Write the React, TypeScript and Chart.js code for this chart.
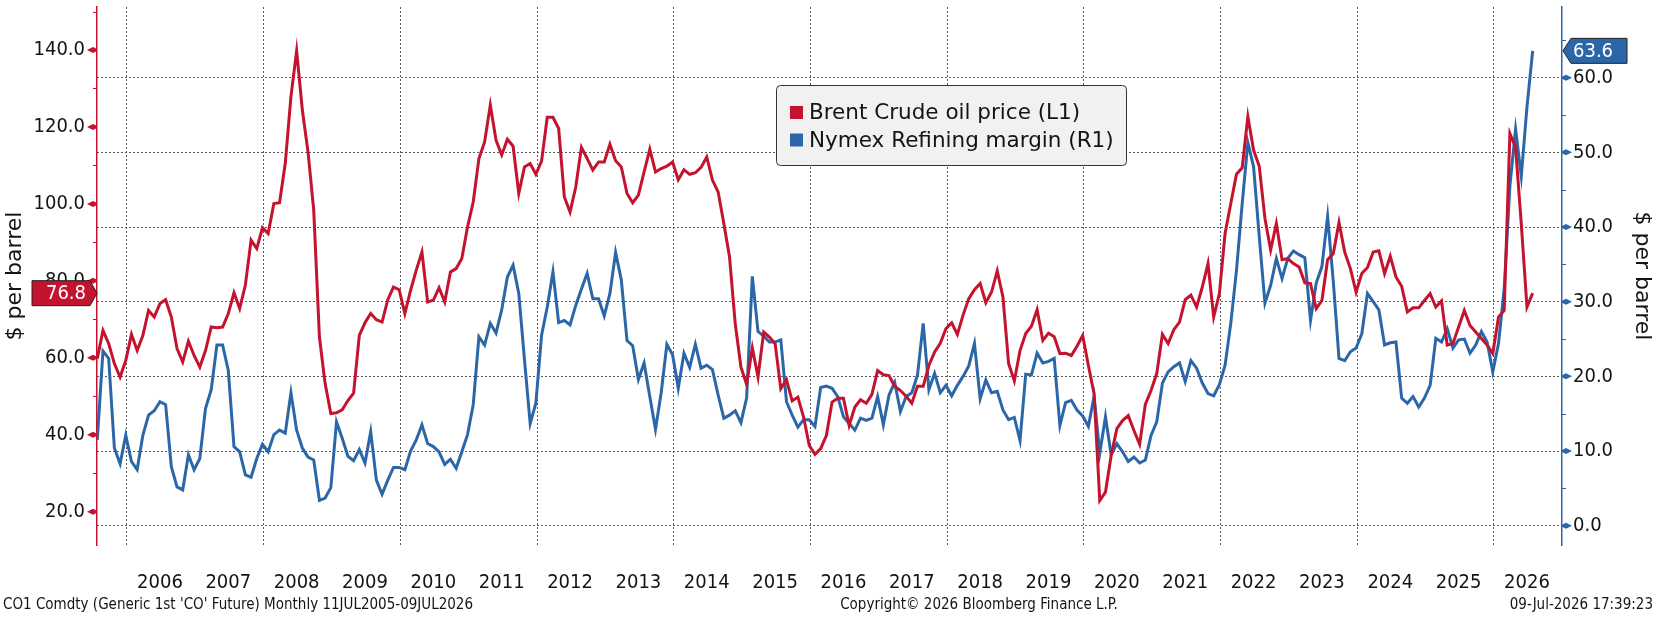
import { useEffect, useRef } from "react";
import { Chart, registerables } from "chart.js";

Chart.register(...registerables);

// Monthly observations, July 2005 .. July 2026 (index 0 = Jul 2005)
const brentPrice = [
  59.8, 67.1, 63.7, 58.5, 55.0, 59.3, 66.1, 61.9, 65.8, 72.3, 70.6, 74.1,
  75.1, 70.6, 62.4, 58.9, 64.3, 60.6, 57.6, 61.9, 68.0, 67.8, 68.0, 71.5,
  76.9, 72.8, 78.9, 90.6, 88.4, 93.8, 92.3, 100.1, 100.3, 110.5, 127.9, 139.8,
  124.4, 113.5, 98.4, 65.4, 53.3, 45.5, 45.7, 46.5, 48.9, 50.8, 65.8, 69.1,
  71.5, 69.9, 69.3, 75.1, 78.4, 77.7, 71.5, 77.5, 82.8, 87.5, 74.5, 75.0,
  78.2, 74.5, 82.3, 83.2, 85.8, 94.0, 100.5, 111.8, 116.1, 125.7, 116.6, 112.7,
  116.8, 115.0, 102.7, 109.6, 110.5, 107.7, 111.1, 122.5, 122.5, 119.6, 101.8, 97.9,
  104.4, 114.7, 111.8, 108.8, 110.9, 110.9, 115.5, 111.2, 109.6, 102.7, 100.3, 102.3,
  108.3, 114.2, 108.3, 109.2, 109.8, 110.9, 106.3, 108.9, 107.7, 108.1, 109.5, 112.2,
  106.2, 103.1, 94.9, 86.2, 68.9, 57.6, 53.1, 62.6, 55.0, 66.7, 65.4, 63.7,
  52.0, 54.3, 48.8, 49.8, 44.6, 37.2, 34.9, 36.4, 39.8, 48.5, 49.5, 49.5,
  42.4, 47.2, 49.1, 48.2, 50.5, 56.7, 55.6, 55.4, 52.6, 51.5, 50.0, 48.2,
  52.6, 52.6, 58.0, 61.5, 63.8, 67.6, 69.1, 66.1, 71.1, 75.4, 77.7, 79.3,
  74.3, 77.1, 82.6, 75.8, 58.5, 54.0, 61.9, 66.3, 68.2, 72.5, 64.5, 66.4,
  65.5, 61.1, 61.2, 60.6, 63.0, 65.8, 58.0, 50.7, 22.9, 25.1, 34.6, 41.6,
  43.7, 45.0, 41.1, 37.5, 47.9, 51.5, 55.9, 66.1, 63.7, 67.3, 69.3, 75.1,
  76.3, 73.2, 78.4, 84.5, 70.6, 76.7, 92.3, 100.1, 107.7, 109.4, 122.7, 114.0,
  109.8, 96.2, 88.0, 94.9, 85.5, 85.8, 84.5, 83.6, 79.5, 79.3, 72.8, 74.9,
  85.5, 87.1, 95.2, 87.5, 83.2, 77.1, 81.9, 83.5, 87.5, 87.8, 81.9, 86.4,
  81.0, 78.6, 71.9, 73.0, 73.0, 74.9, 76.7, 73.2, 74.8, 63.3, 63.7, 68.0,
  72.3, 68.4, 66.7, 65.0, 63.3, 61.1, 70.6, 72.3, 118.3, 114.7, 94.9, 73.2,
  76.8,
];

const refiningMargin = [
  11.5, 23.4, 22.4, 10.4, 8.3, 12.1, 8.6, 7.5, 12.1, 14.8, 15.4, 16.6,
  16.2, 7.9, 5.2, 4.8, 9.5, 7.5, 9.0, 15.7, 18.2, 24.2, 24.2, 20.8,
  10.6, 9.9, 6.8, 6.5, 9.0, 10.9, 9.9, 12.2, 12.8, 12.4, 17.8, 12.8,
  10.4, 9.2, 8.8, 3.4, 3.7, 5.1, 13.9, 11.7, 9.3, 8.7, 10.2, 8.4,
  12.6, 6.1, 4.2, 6.1, 7.8, 7.8, 7.5, 10.0, 11.5, 13.5, 11.0, 10.6,
  9.9, 8.2, 8.9, 7.7, 9.9, 12.2, 16.2, 25.3, 24.2, 27.1, 25.8, 28.9,
  33.3, 34.9, 31.1, 22.2, 13.7, 16.4, 25.5, 29.3, 34.0, 27.2, 27.5, 26.9,
  29.5, 31.7, 33.8, 30.4, 30.4, 28.1, 31.1, 36.6, 32.9, 24.8, 24.1, 19.6,
  21.8, 17.3, 12.9, 17.8, 24.3, 22.9, 18.4, 23.1, 21.2, 24.3, 21.1, 21.5,
  20.9, 17.5, 14.4, 14.8, 15.4, 13.8, 17.1, 33.4, 26.0, 25.4, 24.6, 24.6,
  24.9, 16.6, 14.8, 13.2, 14.2, 14.2, 13.3, 18.5, 18.7, 18.4, 17.3, 14.6,
  13.7, 12.8, 14.4, 14.1, 14.4, 17.3, 13.5, 17.5, 19.2, 15.3, 17.3, 17.8,
  20.2, 27.1, 18.2, 20.4, 17.8, 18.8, 17.4, 18.8, 20.0, 21.4, 24.4, 17.0,
  19.5, 17.8, 18.0, 15.5, 14.2, 14.5, 11.4, 20.3, 20.2, 23.1, 21.8, 22.0,
  22.4, 13.4, 16.5, 16.8, 15.5, 14.7, 13.3, 17.3, 9.7, 14.6, 9.5, 11.0,
  9.9, 8.6, 9.2, 8.4, 8.8, 12.1, 13.9, 19.1, 20.6, 21.3, 21.8, 19.3,
  22.1, 21.1, 19.1, 17.7, 17.4, 18.9, 21.5, 27.1, 34.2, 43.1, 51.3, 48.1,
  38.7, 29.8, 32.2, 35.8, 33.1, 35.8, 36.8, 36.3, 35.9, 27.5, 32.5, 34.7,
  41.4, 32.7, 22.4, 22.1, 23.3, 23.8, 25.7, 31.1, 30.0, 28.9, 24.2, 24.5,
  24.6, 17.1, 16.4, 17.3, 15.9, 17.1, 18.8, 25.1, 24.6, 26.4, 23.8, 24.9,
  25.0, 23.1, 24.2, 26.0, 24.6, 20.6, 24.4, 31.7, 45.5, 53.1, 46.8, 56.1,
  63.6,
];

const yearLabels = [
  "2006", "2007", "2008", "2009", "2010", "2011", "2012", "2013", "2014", "2015", "2016",
  "2017", "2018", "2019", "2020", "2021", "2022", "2023", "2024", "2025", "2026",
];
const gridYears = ["2006", "2008", "2010", "2012", "2014", "2016", "2018", "2020", "2022", "2024", "2026"];
const leftTicks = [20, 40, 60, 80, 100, 120, 140];
const leftMinorTicks = [30, 50, 70, 90, 110, 130, 150];
const rightTicks = [0, 10, 20, 30, 40, 50, 60];
const rightMinorTicks = [5, 15, 25, 35, 45, 55, 65];

const seriesNames = ["Brent Crude oil price (L1)", "Nymex Refining margin (R1)"];
const footerLeft = "CO1 Comdty (Generic 1st 'CO' Future) Monthly 11JUL2005-09JUL2026";
const footerCenter = "Copyright\u00A9 2026 Bloomberg Finance L.P.";
const footerRight = "09-Jul-2026 17:39:23";

const RED = "#c3132f";
const BLUE = "#2b67a8";
const TEXT = "#141414";
const GRID = "#5a5a5a";
const COND = "'DejaVu Sans Condensed', 'DejaVu Sans', sans-serif";
const SANS = "'DejaVu Sans', 'Noto Sans', sans-serif";

// month index helpers (index 0 = end of July 2005)
const yearStartIndex = (y: string) => (Number(y) - 2006) * 12 + 5.2;
const yearMidIndex = (y: string) => (Number(y) - 2006) * 12 + 11;

const gridValues = gridYears.map(yearStartIndex);
const labelValues = yearLabels.map(yearMidIndex);
const xTickValues = [...gridValues, ...labelValues].sort((a, b) => a - b);

const near = (a: number, b: number) => Math.abs(a - b) < 0.01;

const noPad = (s: any) => {
  s.paddingTop = 0;
  s.paddingBottom = 0;
  s.paddingLeft = 0;
  s.paddingRight = 0;
};

const decorations = {
  id: "decorations",
  afterDraw(chart: any) {
    const { ctx, scales } = chart;
    const yL = scales.yL;
    const yR = scales.yR;
    const axL = yL.right;
    const axR = yR.left;
    ctx.save();

    // left axis: minor ticks and major markers
    ctx.strokeStyle = RED;
    ctx.fillStyle = RED;
    ctx.lineWidth = 1;
    for (const v of leftMinorTicks) {
      const y = Math.round(yL.getPixelForValue(v)) + 0.5;
      if (y < yL.top || y > yL.bottom) continue;
      ctx.beginPath();
      ctx.moveTo(axL - 4, y);
      ctx.lineTo(axL, y);
      ctx.stroke();
    }
    for (const v of leftTicks) {
      const y = yL.getPixelForValue(v);
      ctx.beginPath();
      ctx.moveTo(axL - 10, y);
      ctx.lineTo(axL - 4, y - 3);
      ctx.lineTo(axL, y - 1);
      ctx.lineTo(axL, y + 1);
      ctx.lineTo(axL - 4, y + 3);
      ctx.closePath();
      ctx.fill();
    }

    // right axis
    ctx.strokeStyle = BLUE;
    ctx.fillStyle = BLUE;
    for (const v of rightMinorTicks) {
      const y = Math.round(yR.getPixelForValue(v)) + 0.5;
      if (y < yR.top || y > yR.bottom) continue;
      ctx.beginPath();
      ctx.moveTo(axR, y);
      ctx.lineTo(axR + 4, y);
      ctx.stroke();
    }
    for (const v of rightTicks) {
      const y = yR.getPixelForValue(v);
      ctx.beginPath();
      ctx.moveTo(axR + 10, y);
      ctx.lineTo(axR + 4, y - 3);
      ctx.lineTo(axR, y - 1);
      ctx.lineTo(axR, y + 1);
      ctx.lineTo(axR + 4, y + 3);
      ctx.closePath();
      ctx.fill();
    }

    // last-value boxes
    const ds = chart.data.datasets;
    const lastL = ds[0].data[ds[0].data.length - 1].y;
    const lastR = ds[1].data[ds[1].data.length - 1].y;
    const h = 25;
    ctx.font = `20px ${COND}`;
    ctx.textBaseline = "middle";
    {
      const y = yL.getPixelForValue(lastL);
      const x0 = 32;
      const x1 = axL - 7;
      ctx.beginPath();
      ctx.moveTo(x0, y - h / 2);
      ctx.lineTo(x1, y - h / 2);
      ctx.lineTo(axL, y);
      ctx.lineTo(x1, y + h / 2);
      ctx.lineTo(x0, y + h / 2);
      ctx.closePath();
      ctx.fillStyle = RED;
      ctx.fill();
      ctx.strokeStyle = "#222";
      ctx.lineWidth = 1;
      ctx.stroke();
      ctx.fillStyle = "#ffffff";
      ctx.textAlign = "right";
      ctx.fillText(lastL.toFixed(1), axL - 11, y + 1);
    }
    {
      const y = yR.getPixelForValue(lastR);
      const x0 = axR + 9;
      const x1 = 1627;
      ctx.beginPath();
      ctx.moveTo(axR + 1, y);
      ctx.lineTo(x0, y - h / 2);
      ctx.lineTo(x1, y - h / 2);
      ctx.lineTo(x1, y + h / 2);
      ctx.lineTo(x0, y + h / 2);
      ctx.closePath();
      ctx.fillStyle = BLUE;
      ctx.fill();
      ctx.strokeStyle = "#222";
      ctx.lineWidth = 1;
      ctx.stroke();
      ctx.fillStyle = "#ffffff";
      ctx.textAlign = "left";
      ctx.fillText(lastR.toFixed(1), x0 + 2, y + 1);
    }

    // legend box
    {
      const bx = 776.5, by = 85.5, bw = 350, bh = 80, r = 4;
      ctx.beginPath();
      ctx.moveTo(bx + r, by);
      ctx.lineTo(bx + bw - r, by);
      ctx.quadraticCurveTo(bx + bw, by, bx + bw, by + r);
      ctx.lineTo(bx + bw, by + bh - r);
      ctx.quadraticCurveTo(bx + bw, by + bh, bx + bw - r, by + bh);
      ctx.lineTo(bx + r, by + bh);
      ctx.quadraticCurveTo(bx, by + bh, bx, by + bh - r);
      ctx.lineTo(bx, by + r);
      ctx.quadraticCurveTo(bx, by, bx + r, by);
      ctx.closePath();
      ctx.fillStyle = "#f1f1f1";
      ctx.fill();
      ctx.strokeStyle = "#333";
      ctx.lineWidth = 1;
      ctx.stroke();
      ctx.font = `21.5px ${SANS}`;
      ctx.textAlign = "left";
      ctx.textBaseline = "middle";
      const rows = [112.5, 140];
      ds.forEach((d: any, i: number) => {
        ctx.fillStyle = d.borderColor;
        ctx.fillRect(790, rows[i] - 6.5, 13, 13);
        ctx.fillStyle = TEXT;
        ctx.fillText(d.label, 809, rows[i] + 1);
      });
    }

    // footer
    ctx.font = `15px ${COND}`;
    ctx.fillStyle = TEXT;
    ctx.textBaseline = "middle";
    ctx.textAlign = "left";
    ctx.fillText(footerLeft, 3, 605);
    ctx.textAlign = "center";
    ctx.fillText(footerCenter, 979, 605);
    ctx.textAlign = "right";
    ctx.fillText(footerRight, 1653, 605);

    ctx.restore();
  },
};

export default function App() {
  const canvasRef = useRef<HTMLCanvasElement | null>(null);

  useEffect(() => {
    const canvas = canvasRef.current;
    if (!canvas) return;
    const chart = new Chart(canvas, {
      type: "line",
      data: {
        datasets: [
          {
            label: seriesNames[0],
            data: brentPrice.map((v, i) => ({ x: i, y: v })),
            borderColor: RED,
            backgroundColor: RED,
            borderWidth: 3,
            pointRadius: 0,
            tension: 0,
            yAxisID: "yL",
          },
          {
            label: seriesNames[1],
            data: refiningMargin.map((v, i) => ({ x: i, y: v })),
            borderColor: BLUE,
            backgroundColor: BLUE,
            borderWidth: 3,
            pointRadius: 0,
            tension: 0,
            yAxisID: "yR",
          },
        ],
      },
      options: {
        responsive: false,
        animation: false,
        devicePixelRatio: 1,
        layout: { padding: { top: 7, left: 0, right: 0, bottom: 0 } },
        plugins: {
          legend: { display: false },
          tooltip: { enabled: false },
          title: { display: false },
        },
        scales: {
          x: {
            type: "linear",
            min: -0.05,
            max: 257.15,
            afterBuildTicks: (s: any) => {
              s.ticks = xTickValues.map((v) => ({ value: v }));
            },
            afterFit: (s: any) => {
              s.height = 72;
              noPad(s);
            },
            ticks: {
              autoSkip: false,
              maxRotation: 0,
              minRotation: 0,
              padding: 26,
              color: TEXT,
              font: { family: COND, size: 20 },
              callback: (v: any) => {
                const k = labelValues.findIndex((lv) => near(lv, Number(v)));
                return k >= 0 ? yearLabels[k] : "";
              },
            },
            grid: {
              color: (c: any) =>
                c.tick && gridValues.some((g) => near(g, c.tick.value)) ? GRID : "rgba(0,0,0,0)",
              lineWidth: 1,
              drawTicks: false,
              borderDash: [2, 2],
            },
            border: { display: false, dash: [2, 2] },
          },
          yL: {
            type: "linear",
            position: "left",
            min: 11.35,
            max: 151.18,
            afterBuildTicks: (s: any) => {
              s.ticks = leftTicks.map((v) => ({ value: v }));
            },
            afterFit: (s: any) => {
              s.width = 97;
              noPad(s);
            },
            ticks: {
              padding: 12,
              color: TEXT,
              font: { family: COND, size: 20 },
              callback: (v: any) => Number(v).toFixed(1),
            },
            grid: { drawOnChartArea: false, drawTicks: false },
            border: { display: true, color: RED, width: 1.5 },
            title: {
              display: true,
              text: "$ per barrel",
              color: TEXT,
              font: { family: SANS, size: 22 },
              padding: { top: 2, bottom: 0 },
            },
          },
          yR: {
            type: "linear",
            position: "right",
            min: -2.585,
            max: 69.47,
            afterBuildTicks: (s: any) => {
              s.ticks = rightTicks.map((v) => ({ value: v }));
            },
            afterFit: (s: any) => {
              s.width = 96;
              noPad(s);
            },
            ticks: {
              padding: 11,
              color: TEXT,
              font: { family: COND, size: 20 },
              callback: (v: any) => Number(v).toFixed(1),
            },
            grid: {
              drawOnChartArea: true,
              drawTicks: false,
              color: GRID,
              lineWidth: 1,
              borderDash: [2, 2],
            },
            border: { display: true, color: BLUE, width: 1.5, dash: [2, 2] },
            title: {
              display: true,
              text: "$ per barrel",
              color: TEXT,
              font: { family: SANS, size: 22 },
              padding: { top: 3, bottom: 0 },
            },
          },
        },
      } as any,
      plugins: [decorations],
    });
    return () => chart.destroy();
  }, []);

  return (
    <div style={{ position: "fixed", left: 0, top: 0, width: 1658, height: 617, background: "#fff" }}>
      <canvas ref={canvasRef} width={1658} height={617} style={{ display: "block" }} />
    </div>
  );
}
